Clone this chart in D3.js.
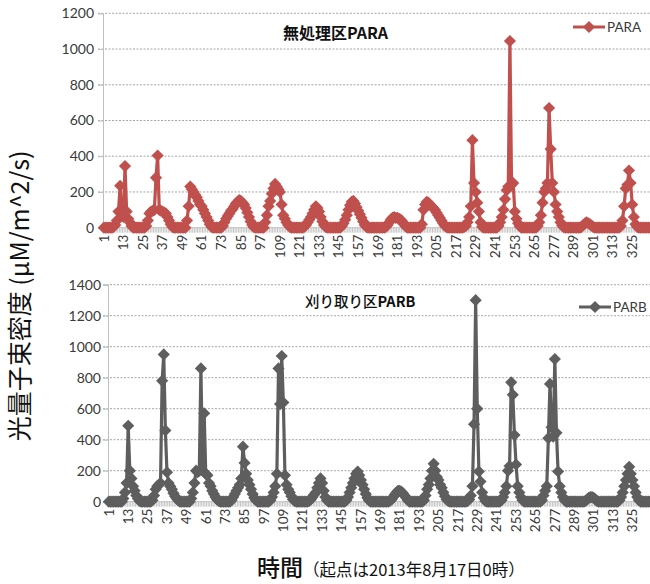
<!DOCTYPE html>
<html>
<head>
<meta charset="utf-8">
<script src="https://cdn.jsdelivr.net/npm/d3@7"></script>
<style>
  html, body { margin: 0; padding: 0; background: #fff; }
  svg { display: block; }
  text { font-family: Lato, "Noto Sans CJK JP", sans-serif; }
</style>
</head>
<body>
<svg id="chart" width="650" height="584"></svg>
<script>
// Hourly photosynthetic photon flux density, 14 days from 2013-08-17 00:00
const hours = d3.range(1, 337);
const hourTicks = [1, 13, 25, 37, 49, 61, 73, 85, 97, 109, 121, 133, 145, 157, 169,
  181, 193, 205, 217, 229, 241, 253, 265, 277, 289, 301, 313, 325];

// 無処理区 (untreated plot), one row per day
const paraValues = [
  0,0,0,0,0,0,5,15,40,90,235,90,60,345,90,50,30,10,0,0,0,0,0,0,
  0,0,10,40,80,90,95,100,280,404,100,95,90,85,80,60,40,20,5,0,0,0,0,0,
  0,0,0,40,120,230,215,200,185,170,150,130,120,100,80,60,40,20,5,0,0,0,0,0,
  0,10,30,50,65,80,95,105,120,135,145,155,150,140,130,110,85,60,35,15,3,0,0,0,
  0,0,0,30,70,120,150,190,220,245,230,215,200,130,70,50,30,15,5,0,0,0,0,0,
  0,0,0,5,15,30,45,60,80,100,120,110,90,60,35,15,5,0,0,0,0,0,0,0,
  0,0,10,25,45,70,100,125,145,150,135,115,95,75,55,35,15,5,0,0,0,0,0,0,
  0,0,0,0,0,5,15,30,45,55,60,55,55,50,45,35,20,8,0,0,0,0,0,0,
  0,0,0,20,100,130,145,140,130,120,110,100,85,70,55,40,25,12,4,0,0,0,0,0,
  0,0,0,0,0,5,10,30,60,120,490,250,200,140,90,30,5,0,0,0,0,0,0,0,
  0,0,10,30,60,100,160,210,230,1045,240,250,90,50,25,8,0,0,0,0,0,0,0,0,
  0,0,10,30,70,140,200,220,250,670,440,250,200,130,90,60,30,12,3,0,0,0,0,0,
  0,0,0,0,0,5,15,25,30,25,20,12,5,0,0,0,0,0,0,0,0,0,0,0,
  0,0,0,0,0,10,40,120,220,240,320,250,130,60,20,5,0,0,0,0,0,0,0,0
];

// 刈り取り区 (mown plot), one row per day
const parbValues = [
  0,0,0,0,0,0,0,0,0,20,60,120,490,200,150,100,70,40,20,5,0,0,0,0,
  0,0,0,10,40,80,100,110,120,780,950,460,190,120,100,80,55,35,20,8,0,0,0,0,
  0,0,0,20,60,120,200,190,200,860,200,570,180,170,120,100,70,50,30,15,5,0,0,0,
  0,0,0,0,10,30,50,70,90,110,150,355,250,180,140,110,80,50,25,10,0,0,0,0,
  0,0,0,0,10,30,60,100,180,860,630,940,640,170,110,80,60,35,15,5,0,0,0,0,
  0,0,0,0,5,15,30,45,60,90,120,150,120,70,30,10,0,0,0,0,0,0,0,0,
  0,0,0,10,30,60,90,120,150,180,195,170,140,110,80,50,25,8,0,0,0,0,0,0,
  0,0,0,0,0,0,5,15,30,45,60,70,70,65,55,40,25,10,0,0,0,0,0,0,
  0,0,0,10,40,80,110,150,200,245,200,160,140,110,90,60,35,15,5,0,0,0,0,0,
  0,0,0,0,0,0,5,15,40,100,500,1300,600,195,130,60,25,5,0,0,0,0,0,0,
  0,0,0,10,30,60,100,200,230,770,690,430,240,100,60,30,10,0,0,0,0,0,0,0,
  0,0,0,0,10,40,70,100,410,760,480,420,920,445,195,100,60,30,10,0,0,0,0,0,
  0,0,0,0,0,0,0,5,15,25,30,30,25,15,5,0,0,0,0,0,0,0,0,0,
  0,0,0,0,10,30,60,100,140,180,225,180,140,100,60,30,10,0,0,0,0,0,0,0
];

const paraTicks = [0, 200, 400, 600, 800, 1000, 1200];
const parbTicks = [0, 200, 400, 600, 800, 1000, 1200, 1400];

const svg = d3.select("#chart");
svg.append("rect").attr("width", 650).attr("height", 584).attr("fill", "#fff");

const panels = [
  { name: "PARA", title: [["無処理区", 700], ["PARA", 700]], titleX: 283, titleY: 39, titleSize: 16,
    values: paraValues, ticks: paraTicks, max: 1200, color: "#C0504D",
    left: 103, right: 651, top: 13.3, bottom: 227.7, labelEnd: 94,
    legendX: 573, legendY: 27 },
  { name: "PARB", title: [["刈り取り区", 500], ["PARB", 700]], titleX: 305, titleY: 307, titleSize: 14.5,
    values: parbValues, ticks: parbTicks, max: 1400, color: "#5E5E5E",
    left: 108, right: 651, top: 284.7, bottom: 501.7, labelEnd: 101,
    legendX: 579, legendY: 307 }
];

const markerPath = d3.symbol(d3.symbolSquare, 74)();

panels.forEach(p => {
  const g = svg.append("g");
  const x = d3.scaleBand().domain(hours).range([p.left, p.right]);
  const y = d3.scaleLinear().domain([0, p.max]).range([p.bottom, p.top]);
  const cx = h => x(h) + x.bandwidth() / 2;

  // dotted horizontal gridlines
  g.append("g").selectAll("line").data(p.ticks.slice(1)).join("line")
    .attr("x1", p.left - 5).attr("x2", 650)
    .attr("y1", d => y(d)).attr("y2", d => y(d))
    .attr("stroke", "#a6a6a6").attr("stroke-width", 1)
    .attr("stroke-dasharray", "2,1.5");

  // value axis
  const yAxis = g.append("g").attr("transform", `translate(${p.left},0)`)
    .call(d3.axisLeft(y).tickValues(p.ticks).tickFormat(d3.format("d"))
      .tickSize(5).tickPadding(p.left - p.labelEnd - 5));
  yAxis.select(".domain").attr("stroke", "#bfbfbf");
  yAxis.selectAll(".tick line").attr("stroke", "#bfbfbf");
  yAxis.selectAll(".tick text").attr("fill", "#3a3a3a")
    .style("font-size", "14px").style("font-family", "Lato, sans-serif");

  // category axis: one tick per hour, labels every 12 hours
  g.append("g").selectAll("line").data(hours).join("line")
    .attr("x1", d => x(d)).attr("x2", d => x(d))
    .attr("y1", p.bottom).attr("y2", p.bottom + 5)
    .attr("stroke", "#c4c4c4").attr("stroke-width", 1);
  g.append("line").attr("x1", p.left).attr("x2", 650)
    .attr("y1", p.bottom).attr("y2", p.bottom).attr("stroke", "#bfbfbf");

  const xAxis = g.append("g").attr("transform", `translate(0,${p.bottom})`)
    .call(d3.axisBottom(x).tickValues(hourTicks).tickSize(0));
  xAxis.select(".domain").remove();
  xAxis.selectAll(".tick text")
    .attr("transform", "rotate(-90)")
    .attr("text-anchor", "end").attr("dy", "0.35em").attr("x", -7).attr("y", 0)
    .attr("fill", "#3a3a3a")
    .style("font-size", "13.5px").style("font-family", "Lato, sans-serif");

  // series line and diamond markers
  const line = d3.line().x((d, i) => cx(hours[i])).y(d => y(d));
  g.append("path").datum(p.values)
    .attr("d", line).attr("fill", "none")
    .attr("stroke", p.color).attr("stroke-width", 3.2).attr("stroke-linejoin", "round");
  g.append("g").selectAll("path").data(p.values).join("path")
    .attr("d", markerPath)
    .attr("transform", (d, i) => `translate(${cx(hours[i])},${y(d)}) rotate(45)`)
    .attr("fill", p.color);

  // panel title
  const t = g.append("text").attr("x", p.titleX).attr("y", p.titleY)
    .attr("fill", "#111").style("font-size", p.titleSize + "px")
    .style("font-family", "'Noto Sans CJK JP', sans-serif");
  p.title.forEach(([s, w]) => t.append("tspan").attr("font-weight", w).text(s));

  // legend
  g.append("line").attr("x1", p.legendX).attr("x2", p.legendX + 32)
    .attr("y1", p.legendY).attr("y2", p.legendY)
    .attr("stroke", p.color).attr("stroke-width", 3);
  g.append("path").attr("d", markerPath)
    .attr("transform", `translate(${p.legendX + 16},${p.legendY}) rotate(45)`)
    .attr("fill", p.color);
  g.append("text").attr("x", p.legendX + 34).attr("y", p.legendY).attr("dy", "0.35em")
    .attr("fill", "#3a3a3a").style("font-size", "13.5px")
    .style("font-family", "Lato, sans-serif").text(p.name);
});

// axis titles
svg.append("text")
  .attr("transform", "translate(29,296) rotate(-90)")
  .attr("text-anchor", "middle")
  .attr("fill", "#111")
  .style("font-size", "25px")
  .style("font-family", "'Noto Sans CJK JP', sans-serif")
  .text("光量子束密度 (μM/m^2/s)");

const xt = svg.append("text").attr("x", 257).attr("y", 576)
  .attr("fill", "#111").style("font-family", "'Noto Sans CJK JP', sans-serif");
xt.append("tspan").style("font-size", "23px").attr("font-weight", 500).text("時間");
xt.append("tspan").style("font-size", "16.5px").text("（起点は2013年8月17日0時）");
</script>
</body>
</html>
